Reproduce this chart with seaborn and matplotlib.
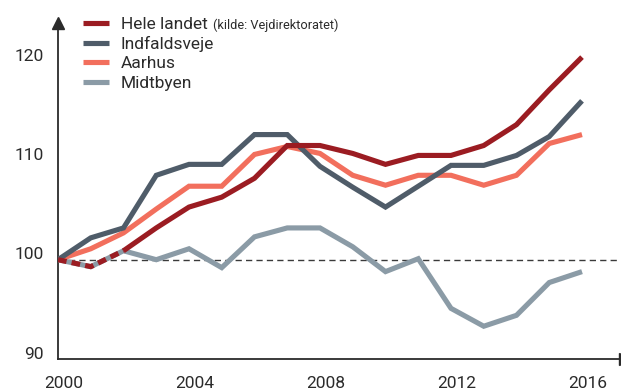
import matplotlib
matplotlib.use("Agg")
import matplotlib.pyplot as plt
import matplotlib.transforms as mtransforms
from matplotlib.lines import Line2D
import pandas as pd
import seaborn as sns

# Index values (2000 = 100)
years = list(range(2000, 2017))
hele_landet = [100.0, 99.3, 100.9, 103.2, 105.3, 106.3, 108.2, 111.5, 111.5,
               110.7, 109.6, 110.5, 110.5, 111.5, 113.6, 117.1, 120.4]
indfaldsveje = [100.0, 102.2, 103.2, 108.5, 109.6, 109.6, 112.6, 112.6, 109.4,
                107.3, 105.3, 107.4, 109.5, 109.5, 110.5, 112.4, 116.0]
aarhus = [100.0, 101.1, 102.7, 105.1, 107.4, 107.4, 110.6, 111.4, 110.7,
          108.5, 107.5, 108.5, 108.5, 107.5, 108.5, 111.7, 112.6]
midtbyen = [100.0, 99.3, 100.9, 100.0, 101.1, 99.2, 102.3, 103.2, 103.2,
            101.3, 98.8, 100.1, 95.1, 93.3, 94.4, 97.7, 98.8]

series_names = ["Hele landet", "Indfaldsveje", "Aarhus", "Midtbyen"]
source_note = "(kilde: Vejdirektoratet)"
estimate_until = 2002  # national series drawn dashed up to this year
x_ticks = [2000, 2004, 2008, 2012, 2016]
y_ticks = [90, 100, 110, 120]

colors = {
    "Hele landet": "#9b1c22",
    "Indfaldsveje": "#4f5c69",
    "Aarhus": "#f26f5d",
    "Midtbyen": "#8b9ba6",
}
text_color = "#2b2b2b"
axis_color = "#2b2b2b"

sns.set_theme(style="white")
plt.rcParams["font.family"] = ["Roboto", "DejaVu Sans"]

W, H = 621, 392
fig = plt.figure(figsize=(W / 100, H / 100), dpi=100)
ax = fig.add_axes([58 / W, (H - 359) / H, (619 - 58) / W, (359 - 23) / H])

df = pd.DataFrame({
    "year": years,
    "Hele landet": hele_landet,
    "Indfaldsveje": indfaldsveje,
    "Aarhus": aarhus,
    "Midtbyen": midtbyen,
}).melt(id_vars="year", var_name="serie", value_name="indeks")

lw = 3.7
line_kw = dict(lw=lw, solid_joinstyle="miter", solid_capstyle="butt",
               estimator=None, ax=ax)

# reference line at index 100
ax.axhline(100, color="#3a3a3a", lw=1.0, dashes=(4.5, 3), zorder=1)

for name in ["Midtbyen", "Aarhus", "Indfaldsveje"]:
    sns.lineplot(data=df[df.serie == name], x="year", y="indeks",
                 color=colors[name], zorder=3, **line_kw)

hl = df[df.serie == "Hele landet"]
sns.lineplot(data=hl[hl.year >= estimate_until], x="year", y="indeks",
             color=colors["Hele landet"], zorder=4, **line_kw)
sns.lineplot(data=hl[hl.year <= estimate_until], x="year", y="indeks",
             color=colors["Hele landet"], zorder=4, linestyle=(0, (1.7, 1.0)),
             lw=lw, estimator=None, ax=ax, dash_capstyle="butt")

ax.set_xlim(2000, 2000 + 561 / 32.75)
ax.set_ylim(90, 90 + 336 / 9.93)
ax.set_xlabel("")
ax.set_ylabel("")

ax.set_xticks(x_ticks)
ax.set_xticklabels([str(t) for t in x_ticks])
ax.set_yticks(y_ticks)
ax.set_yticklabels([str(t) for t in y_ticks])
ax.tick_params(axis="both", length=0, labelsize=12.5, labelcolor=text_color)
ax.tick_params(axis="x", pad=12)
ax.tick_params(axis="y", pad=10.5)

for lab in ax.get_yticklabels():
    lab.set_transform(lab.get_transform() +
                      mtransforms.ScaledTranslation(0, 0.065, fig.dpi_scale_trans))
for lab in ax.get_xticklabels():
    lab.set_transform(lab.get_transform() +
                      mtransforms.ScaledTranslation(0.06, 0, fig.dpi_scale_trans))

for side in ["top", "right"]:
    ax.spines[side].set_visible(False)
for side in ["left", "bottom"]:
    ax.spines[side].set_color(axis_color)
    ax.spines[side].set_linewidth(1.3)

# arrow heads on the axes
ax.plot([0], [1], marker="^", markersize=8.5, color=axis_color,
        transform=ax.transAxes, clip_on=False, zorder=5)
ax.plot([1], [0], marker=">", markersize=8.5, color=axis_color, clip_on=False,
        transform=ax.transAxes + mtransforms.ScaledTranslation(
            0.058, 0, fig.dpi_scale_trans), zorder=5)

# legend
row_baselines = [29.3, 48.8, 68.3, 87.8]
texts = []
for name, yb in zip(series_names, row_baselines):
    yl = 1 - (yb - 6.3) / H
    fig.add_artist(Line2D([83 / W, 109 / W], [yl, yl], transform=fig.transFigure,
                          color=colors[name], lw=lw, solid_capstyle="butt"))
    texts.append(fig.text(121 / W, 1 - yb / H, name, fontsize=12.5,
                          color=text_color, va="baseline", ha="left"))

fig.canvas.draw()
bb = texts[0].get_window_extent()
fig.text((bb.x1 + 5) / W, 1 - row_baselines[0] / H, source_note, fontsize=9.2,
         color=text_color, va="baseline", ha="left")

fig.savefig("out.png", dpi=100)
